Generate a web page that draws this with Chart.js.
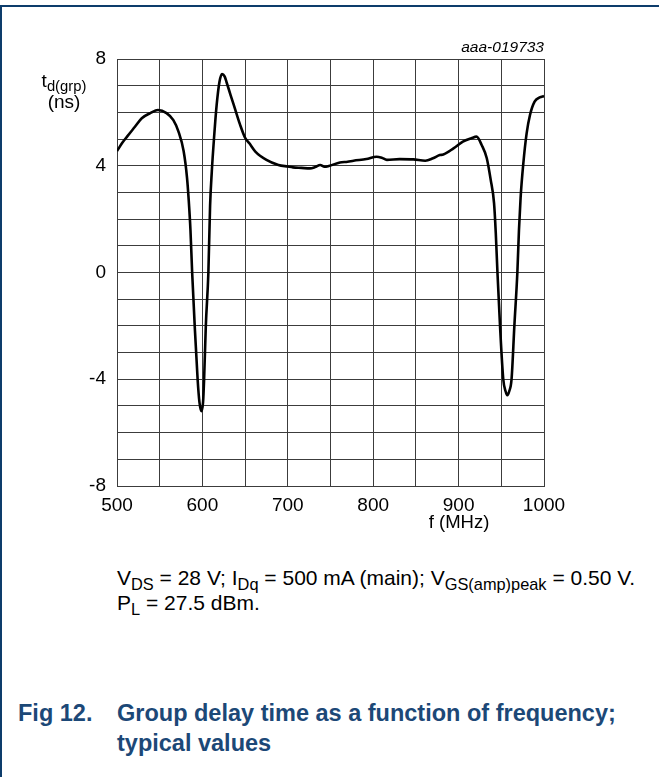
<!DOCTYPE html>
<html>
<head>
<meta charset="utf-8">
<script src="https://cdn.jsdelivr.net/npm/chart.js@4"></script>
<style>
  html, body { margin: 0; padding: 0; background: #fff; }
  body { width: 659px; height: 777px; position: relative; overflow: hidden;
         font-family: 'Liberation Sans', Arial, sans-serif; color: #000; }
  #frame { position: absolute; left: 0; top: 5px; width: 659px; height: 772px;
           border-top: 2px solid #0d3c6b; border-left: 2px solid #0d3c6b; box-sizing: border-box; }
  #chart-box { position: absolute; left: 0; top: 0; width: 659px; height: 540px; }
  .txt { position: absolute; white-space: nowrap; }
  .sub { font-size: 0.78em; position: relative; top: 0.3em; }
  #code { right: 115px; top: 38px; font-size: 15.5px; font-style: italic; }
  #ytitle { left: 33px; top: 71px; width: 62px; text-align: center; font-size: 19px; line-height: 20px; }
  #xtitle { left: 409px; top: 511px; width: 100px; text-align: center; font-size: 18.5px; }
  #cond { left: 117px; top: 566px; font-size: 21px; line-height: 24px; }
  .fig { color: #1c4877; font-weight: bold; font-size: 23.5px; line-height: 26px; }
</style>
</head>
<body>
<div id="frame"></div>
<div id="chart-box"><canvas id="delay-chart" width="659" height="540"></canvas></div>

<div class="txt" id="code">aaa-019733</div>
<div class="txt" id="ytitle">t<span class="sub">d(grp)</span><br>(ns)</div>
<div class="txt" id="xtitle">f (MHz)</div>
<div class="txt" id="cond">V<span class="sub">DS</span> = 28 V; I<span class="sub">Dq</span> = 500 mA (main); V<span class="sub">GS(amp)peak</span> = 0.50 V.<br>P<span class="sub">L</span> = 27.5 dBm.</div>
<div class="txt fig" style="left:18px; top:700px;">Fig 12.</div>
<div class="txt fig" style="left:117px; top:700px;">Group delay time as a function of frequency;</div>
<div class="txt fig" style="left:117px; top:730px;">typical values</div>

<script>
// Frequency (MHz) and group delay (ns)
const freqMHz = [
  500, 506, 512, 521, 529, 539, 548, 558, 566, 572, 578, 582, 584, 586, 588,
  591, 594.4, 596.5, 598.7, 600.8, 602, 604, 607, 609, 611, 613.6, 616.7, 620,
  623, 626, 628.4, 633, 638, 644, 650, 655, 662, 675, 689, 700, 706, 716, 726,
  732, 738, 743, 748, 761, 770, 777, 792, 804, 810, 816, 831, 847, 861, 870,
  878, 882, 894, 905, 915, 921, 927, 933, 937.6, 941.5, 943.5, 945.5, 948.5,
  952.3, 955, 957, 959.3, 962, 965.3, 968.8, 970.7, 972.6, 975.8, 979.7, 983.6,
  989, 995, 1000
];
const delayNs = [
  4.55, 4.85, 5.10, 5.46, 5.78, 5.97, 6.09, 5.97, 5.71, 5.28, 4.55, 3.55, 2.7, 1.6, 0.0,
  -2.0, -4.0, -4.85, -5.2, -4.85, -4.0, -2.0, 0.0, 2.5, 3.78, 5.03, 6.28, 7.15,
  7.44, 7.35, 7.12, 6.65, 6.15, 5.55, 5.05, 4.84, 4.53, 4.22, 4.03, 3.97, 3.94, 3.92, 3.90,
  3.95, 4.03, 3.96, 3.99, 4.12, 4.15, 4.19, 4.25, 4.34, 4.30, 4.22, 4.25, 4.24, 4.19, 4.28,
  4.40, 4.42, 4.65, 4.90, 5.03, 5.09, 4.78, 4.28, 3.47, 2.6, 1.5, 0.0, -2.0,
  -4.0, -4.45, -4.6, -4.45, -4.0, -2.0, 0.0, 1.6, 2.8, 4.09, 5.22, 5.9,
  6.4, 6.56, 6.61
];

// Axis ranges and labelled ticks
const xRange = [500, 1000];
const yRange = [-8, 8];
const xLabelTicks = [500, 600, 700, 800, 900, 1000];
const yLabelTicks = [-8, -4, 0, 4, 8];

const gridColor = '#3c3c3c';
const tickFont = { family: "'Liberation Sans', Arial, sans-serif", size: 19 };

function createDelayChart() {
  const ctx = document.getElementById('delay-chart').getContext('2d');
  const points = freqMHz.map((f, i) => ({ x: f, y: delayNs[i] }));

  new Chart(ctx, {
    type: 'line',
    data: {
      datasets: [
        {
          data: points,
          borderColor: '#000',
          borderWidth: 2.6,
          pointRadius: 0,
          fill: false,
          cubicInterpolationMode: 'monotone',
        },
      ],
    },
    options: {
      responsive: false,
      animation: false,
      devicePixelRatio: 1,
      layout: { padding: { left: 0, top: 59, right: 115, bottom: 0 } },
      plugins: { legend: { display: false }, tooltip: { enabled: false } },
      scales: {
        x: {
          type: 'linear',
          min: xRange[0],
          max: xRange[1],
          afterFit: scale => { scale.height = 54; },
          grid: { color: gridColor, lineWidth: 1, drawTicks: false },
          border: { display: true, color: gridColor, width: 1 },
          ticks: {
            stepSize: 50,
            padding: 8,
            color: '#000',
            font: tickFont,
            maxRotation: 0,
            autoSkip: false,
            callback: v => (xLabelTicks.includes(v) ? String(v) : ''),
          },
        },
        y: {
          min: yRange[0],
          max: yRange[1],
          afterFit: scale => { scale.width = 117; },
          grid: { color: gridColor, lineWidth: 1, drawTicks: false },
          border: { display: true, color: gridColor, width: 1 },
          ticks: {
            stepSize: 1,
            padding: 11,
            color: '#000',
            font: tickFont,
            autoSkip: false,
            callback: v => (yLabelTicks.includes(v) ? String(v) : ''),
          },
        },
      },
    },
  });
}

createDelayChart();
</script>
</body>
</html>
